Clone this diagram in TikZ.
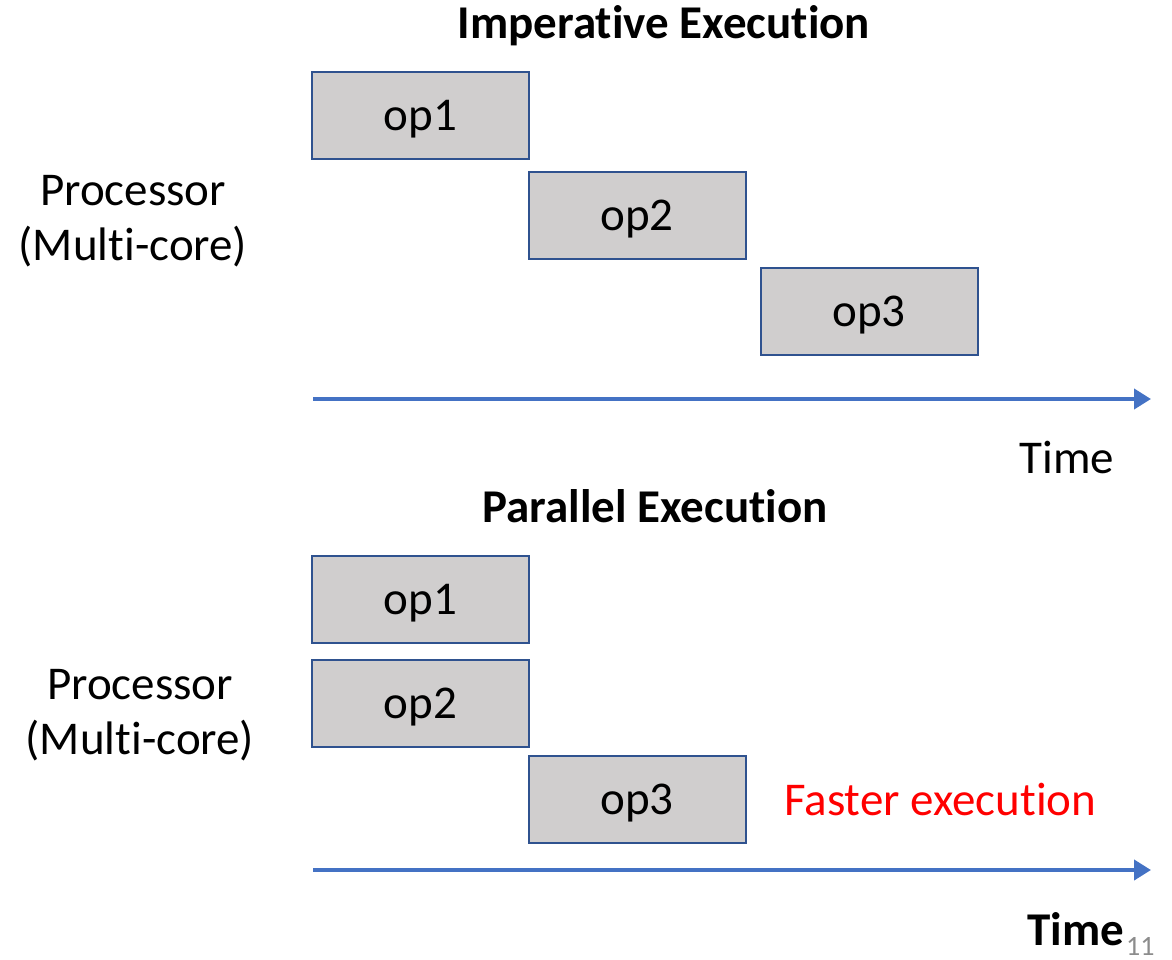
\documentclass[tikz,border=0pt]{standalone}
\usepackage{fontspec}
\setmainfont{Carlito}[RawFeature={-liga;-clig;-calt}]
\usetikzlibrary{arrows.meta}
\definecolor{opfill}{HTML}{D0CECE}
\definecolor{opedge}{HTML}{2F528F}
\definecolor{axisblue}{HTML}{4472C4}
\definecolor{pagegray}{HTML}{8C8C8C}
\tikzset{
  opbox/.style={draw=opedge, line width=2pt, fill=opfill, minimum width=217pt,
    minimum height=87pt, inner sep=0pt, text depth=0pt,
    font=\fontsize{47}{50}\selectfont},
  label/.style={anchor=base, inner sep=0pt, font=\fontsize{47}{50}\selectfont},
  heading/.style={label, font=\fontsize{47}{50}\selectfont\bfseries},
  timeaxis/.style={draw=axisblue, line width=4pt, -{Triangle[length=17pt,width=20pt]}}
}
\begin{document}
\begin{tikzpicture}[x=1pt,y=-1pt]
\useasboundingbox (0,0) rectangle (1172,960);

% sequential schedule
\node[heading] (t1) at (664,39) {Imperative Execution};
\node[label] (p1a) at (133,206) {Processor};
\node[label] (p1b) at (133,260) {(Multi-core)};
\node[opbox] (a1) at (420.5,115.5) {op1};
\node[opbox] (a2) at (637,215.5) {op2};
\node[opbox] (a3) at (869,311.5) {op3};
\coordinate (s1) at (313,399);
\coordinate (e1) at (1151,399);
\draw[timeaxis] (s1) -- (e1);
\node[label] (time1) at (1067,473) {Time};

% parallel schedule
\node[heading] (t2) at (655,522) {Parallel Execution};
\node[label] (p2a) at (140,699) {Processor};
\node[label] (p2b) at (140,754) {(Multi-core)};
\node[opbox] (b1) at (420.5,599.5) {op1};
\node[opbox] (b2) at (420.5,703.5) {op2};
\node[opbox] (b3) at (637,799.5) {op3};
\node[label, anchor=base west, text=red] (fast) at (784,815) {Faster execution};
\coordinate (s2) at (313,870);
\coordinate (e2) at (1151,870);
\draw[timeaxis] (s2) -- (e2);
\node[heading] (time2) at (1076,945) {Time};
\node[label, anchor=base west, text=pagegray, font=\fontsize{28}{30}\selectfont] (pg) at (1126,955) {11};
\end{tikzpicture}
\end{document}
